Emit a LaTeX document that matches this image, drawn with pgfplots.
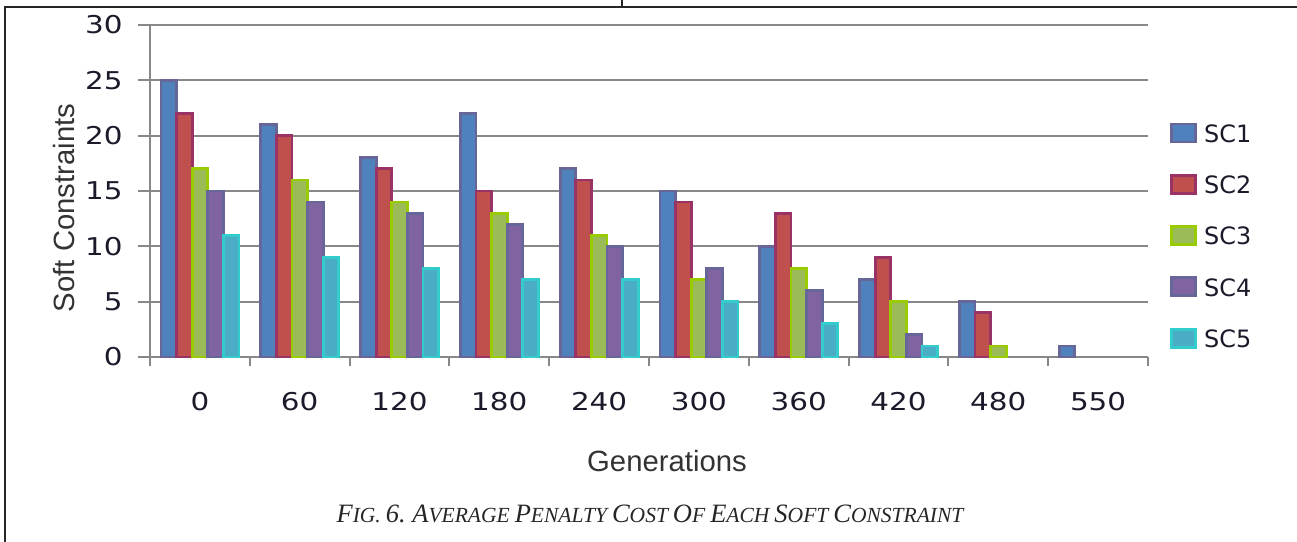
\documentclass[border=0pt]{standalone}
\usepackage{fontspec}
\setmainfont{Liberation Sans}
\newfontfamily\tickfont[FakeStretch=1.2]{DejaVu Sans}
\newfontfamily\legfont{DejaVu Sans}
\newfontfamily\capfont{Liberation Serif}
\usepackage{pgfplots}
\pgfplotsset{compat=1.18}

\definecolor{fillA}{HTML}{4F81BD}\definecolor{drawA}{HTML}{666699}
\definecolor{fillB}{HTML}{C0504D}\definecolor{drawB}{HTML}{993366}
\definecolor{fillC}{HTML}{9BBB59}\definecolor{drawC}{HTML}{99CC00}
\definecolor{fillD}{HTML}{8064A2}\definecolor{drawD}{HTML}{666699}
\definecolor{fillE}{HTML}{4BACC6}\definecolor{drawE}{HTML}{33CCCC}
\definecolor{axgray}{HTML}{888888}
\definecolor{ink}{HTML}{1A1A2A}

% fake italic small caps for the caption
\newcommand\capsc[2]{{\fontsize{13.3}{14}\selectfont #1}{\fontsize{10.8}{14}\selectfont #2}}

\begin{document}
\begin{tikzpicture}
\useasboundingbox (0,0) rectangle (648.5bp,-271bp);
\draw[line width=1bp, black!85] (2.5bp,-271bp) -- (2.5bp,-3.5bp) -- (648.5bp,-3.5bp);
\draw[line width=0.8bp, black!85] (311bp,0bp) -- (311bp,-3.5bp);

\begin{axis}[
  at={(75bp,-178.5bp)}, anchor=south west,
  scale only axis, width=499bp, height=166bp,
  ybar=0pt, bar width=7.8bp,
  xmin=-0.5, xmax=9.5, ymin=0, ymax=30,
  axis lines*=left,
  axis line style={axgray, line width=1bp},
  tick align=outside,
  major tick length=6bp, minor tick length=4.5bp,
  tick style={axgray, line width=1bp},
  xtick={0,...,9},
  xticklabels={0,60,120,180,240,300,360,420,480,550},
  minor xtick={-0.5,0.5,...,9.5},
  major x tick style={draw=none},
  ytick={0,5,...,30},
  ymajorgrids,
  grid style={axgray, line width=1bp},
  /pgf/number format/assume math mode=true,
  tick label style={font=\tickfont\fontsize{12.3}{12}\selectfont, text=ink},
  xticklabel style={anchor=center, inner sep=0pt, yshift=-16.5bp},
  yticklabel style={anchor=east, inner sep=0pt, xshift=-7.5bp},
  xlabel={Generations},
  xlabel style={at={(axis description cs:0.518,-0.312)}, anchor=center,
    font=\fontsize{14.7}{16}\selectfont, text=black!80},
  ylabel={Soft Constraints},
  ylabel style={at={(axis description cs:-0.0862,0.449)}, anchor=center,
    font=\fontsize{14.7}{16}\selectfont, text=black!80},
  legend image code/.code={%
    \draw[#1, line width=1.4bp] (0bp,-3.5bp) rectangle (12bp,5.5bp);},
  legend style={draw=none, fill=none, inner sep=0pt,
    at={(axis description cs:1.022,0.707)}, anchor=north west,
    row sep=14.25bp, font=\legfont\fontsize{12}{12}\selectfont,
    nodes={inner sep=0pt, inner xsep=3.5bp, text=ink}},
  legend cell align=left,
]
\addplot[fill=fillA, draw=drawA, line width=1.4bp] coordinates
  {(0,25) (1,21) (2,18) (3,22) (4,17) (5,15) (6,10) (7,7) (8,5) (9,1)};
\addplot[fill=fillB, draw=drawB, line width=1.4bp] coordinates
  {(0,22) (1,20) (2,17) (3,15) (4,16) (5,14) (6,13) (7,9) (8,4)};
\addplot[fill=fillC, draw=drawC, line width=1.4bp] coordinates
  {(0,17) (1,16) (2,14) (3,13) (4,11) (5,7) (6,8) (7,5) (8,1)};
\addplot[fill=fillD, draw=drawD, line width=1.4bp] coordinates
  {(0,15) (1,14) (2,13) (3,12) (4,10) (5,8) (6,6) (7,2)};
\addplot[fill=fillE, draw=drawE, line width=1.4bp] coordinates
  {(0,11) (1,9) (2,8) (3,7) (4,7) (5,5) (6,3) (7,1)};
\legend{SC1,SC2,SC3,SC4,SC5}
\end{axis}

\node[anchor=base, font=\capfont\itshape, text=black!85] at (325bp,-261bp)
  {\capsc{F}{IG.} \capsc{6.}{} \capsc{A}{VERAGE} \capsc{P}{ENALTY} \capsc{C}{OST}
   \capsc{O}{F} \capsc{E}{ACH} \capsc{S}{OFT} \capsc{C}{ONSTRAINT}};
\end{tikzpicture}
\end{document}
